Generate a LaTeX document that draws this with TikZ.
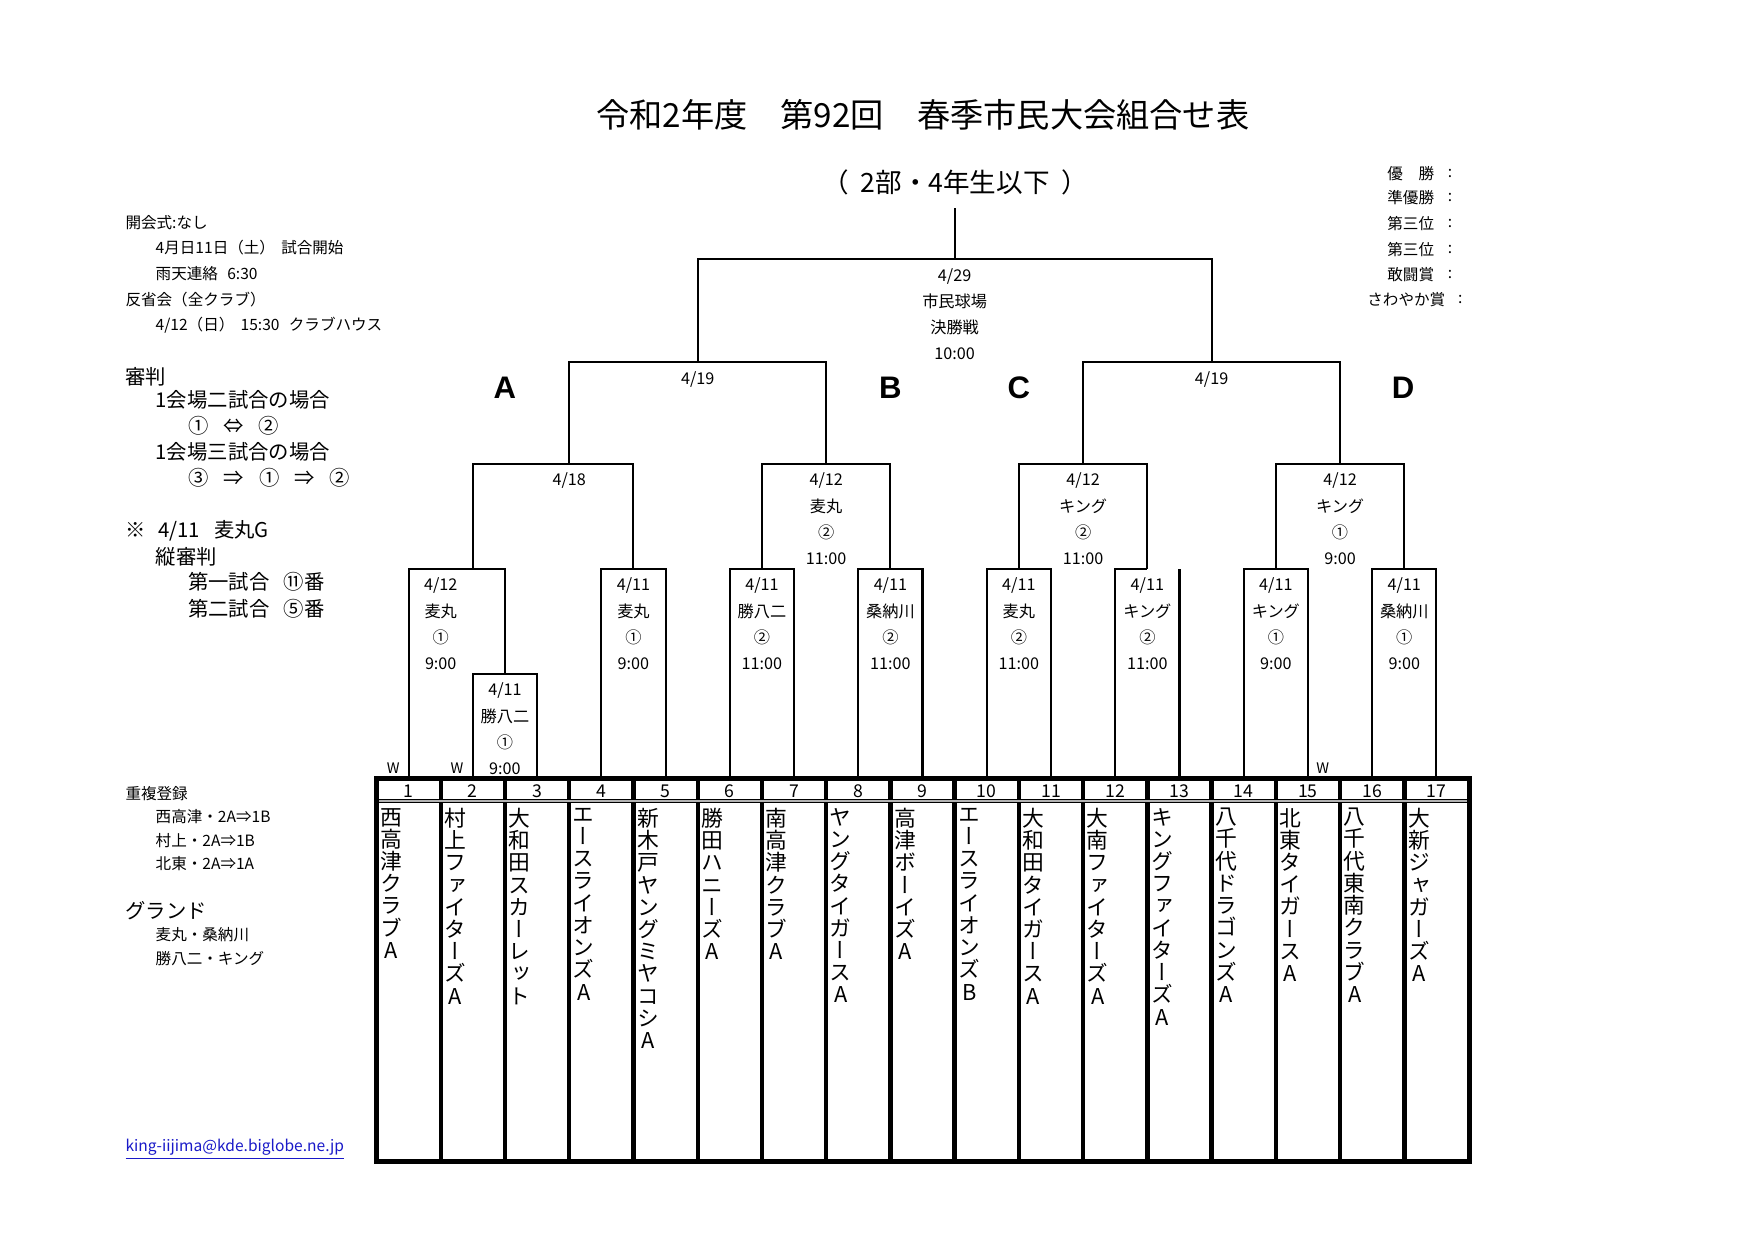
\documentclass[tikz,border=0pt]{standalone}
\usepackage{fontspec}
\setmainfont{Noto Sans CJK JP}
\newfontfamily\tatefont[RawFeature=+vert]{Noto Sans CJK JP}
\newfontfamily\abcfont{Liberation Sans}
\definecolor{mailblue}{RGB}{25,25,200}

% team names are written top to bottom, one character per line
\def\tatego#1{\ifx\end#1\else\hbox to 1em{\hss#1\hss}\expandafter\tatego\fi}
\newcommand\tate[1]{\vtop{\tatefont\baselineskip=10.7pt\lineskiplimit=-100pt\expandafter\tatego#1\end}}

\begin{document}
\begin{tikzpicture}[x=0.5382pt, y=-0.5382pt, line join=miter,
    line/.style={line width=1pt},
    frame/.style={line width=2.4pt},
    sep/.style={line width=2.1pt},
    info/.style={font=\fontsize{7.8}{12.6}\selectfont, align=center, inner sep=0pt, anchor=north},
    note/.style={font=\fontsize{7.5}{9}\selectfont, inner sep=0pt, anchor=west},
    bignote/.style={font=\fontsize{9.8}{11}\selectfont, inner sep=0pt, anchor=west},
    grp/.style={font=\abcfont\bfseries\fontsize{15}{15}\selectfont, inner sep=0pt},
    num/.style={font=\fontsize{8.5}{9}\selectfont, inner sep=0pt},
    team/.style={font=\fontsize{10.5}{10.7}\selectfont, inner sep=0pt, anchor=north west},
    wmark/.style={font=\fontsize{7}{8}\selectfont, inner sep=0pt}]
\useasboundingbox (0,0) rectangle (1570,1110);

% titles
\node[font=\fontsize{16}{16}\selectfont] (title) at (826,103) {令和2年度　第92回　春季市民大会組合せ表};
\node[font=\fontsize{12.8}{13}\selectfont] (sub) at (855,163) {（\hspace{0.45em}2部・4年生以下\hspace{0.45em}）};

% prizes
\foreach \lab/\y in {優　勝/155, 準優勝/177, 第三位/200, 第三位/223, 敢闘賞/246} {
  \node[note, anchor=east] (pr\y) at (1284,\y) {\lab};
  \node[note, anchor=center] (pc\y) at (1298,\y) {:};
}
\node[note, anchor=east] (pr268) at (1294,268) {さわやか賞};
\node[note, anchor=center] (pc268) at (1307,268) {:};

% notes on the left
\node[note] (n1) at (112,199) {開会式:なし};
\node[note] (n2) at (139,222) {4月日11日（土）\hspace{0.4em}試合開始};
\node[note] (n3) at (139,245) {雨天連絡\hspace{0.6em}6:30};
\node[note] (n4) at (112,268) {反省会（全クラブ）};
\node[note] (n5) at (139,291) {4/12（日）\hspace{0.4em}15:30\hspace{0.6em}クラブハウス};
\node[bignote] (j1) at (112,337) {審判};
\node[bignote] (j2) at (139,358) {1会場二試合の場合};
\node[bignote] (j3) at (168,381) {①\hspace{0.75em}⇔\hspace{0.7em}②};
\node[bignote] (j4) at (139,404) {1会場三試合の場合};
\node[bignote] (j5) at (168,428) {③\hspace{0.75em}⇒\hspace{0.75em}①\hspace{0.75em}⇒\hspace{0.7em}②};
\node[bignote] (k1) at (112,475) {※\hspace{0.6em}4/11\hspace{0.7em}麦丸G};
\node[bignote] (k2) at (139,498) {縦審判};
\node[bignote] (k3) at (168,521) {第一試合\hspace{0.7em}⑪番};
\node[bignote] (k4) at (168,545) {第二試合\hspace{0.7em}⑤番};
\node[note] (d1) at (112,710) {重複登録};
\node[note] (d2) at (139,731) {西高津・2A⇒1B};
\node[note] (d3) at (139,752) {村上・2A⇒1B};
\node[note] (d4) at (139,773) {北東・2A⇒1A};
\node[bignote] (g1) at (112,815) {グランド};
\node[note] (g2) at (139,837) {麦丸・桑納川};
\node[note] (g3) at (139,858) {勝八二・キング};
\node[note, text=mailblue] (mail) at (112,1029) {\underline{king-iijima@kde.biglobe.ne.jp}};

% bracket points
\foreach \i in {1,...,17}
  \coordinate (t\i) at ({337+57.5*(\i-0.5)},697);
\coordinate (m23) at (452,603);
\coordinate (m1) at (423.25,509);
\coordinate (m45) at (567,509);
\coordinate (m67) at (682,509);
\coordinate (m89) at (797,509);
\coordinate (m1011) at (912,509);
\coordinate (m1213) at (1027,509);
\coordinate (e13) at (t13 |- m1213);
\coordinate (m1415) at (1142,509);
\coordinate (m1617) at (1257,509);
\coordinate (qA) at (509.5,415);
\coordinate (qB) at (739.5,415);
\coordinate (qC) at (969.5,415);
\coordinate (qD) at (1199.5,415);
\coordinate (sL) at (624.5,324);
\coordinate (sR) at (1084.5,324);
\coordinate (fin) at (854.5,232);
\coordinate (top) at (854.5,186);

% bracket
\draw[line] (t2) |- (m23) -| (t3);
\draw[line] (t1) |- (m1) -| (m23);
\draw[line] (t4) |- (m45) -| (t5);
\draw[line] (t6) |- (m67) -| (t7);
\draw[line] (t8) |- (m89) -| (t9);
\draw[line] (t10) |- (m1011) -| (t11);
\draw[line] (t12) |- (m1213);
\draw[line] (t13) -- (e13);
\draw[line] (t14) |- (m1415) -| (t15);
\draw[line] (t16) |- (m1617) -| (t17);
\draw[line] (m1) |- (qA) -| (m45);
\draw[line] (m67) |- (qB) -| (m89);
\draw[line] (m1011) |- (qC) -| (m1213);
\draw[line] (m1415) |- (qD) -| (m1617);
\draw[line] (qA) |- (sL) -| (qB);
\draw[line] (qC) |- (sR) -| (qD);
\draw[line] (sL) |- (fin) -| (sR);
\draw[line] (fin) -- (top);

% match info
\node[info] (iF) at (854.5,240) {4/29\\市民球場\\決勝戦\\10:00};
\node[info] (iSL) at (624.5,332) {4/19};
\node[info] (iSR) at (1084.5,332) {4/19};
\node[info] (iQA) at (509.5,423) {4/18};
\node[info] (iQB) at (739.5,423) {4/12\\麦丸\\②\\11:00};
\node[info] (iQC) at (969.5,423) {4/12\\キング\\②\\11:00};
\node[info] (iQD) at (1199.5,423) {4/12\\キング\\①\\9:00};
\node[info] (i1) at (394.5,517) {4/12\\麦丸\\①\\9:00};
\node[info] (i23) at (452,611) {4/11\\勝八二\\①\\9:00};
\node[info] (i45) at (567,517) {4/11\\麦丸\\①\\9:00};
\node[info] (i67) at (682,517) {4/11\\勝八二\\②\\11:00};
\node[info] (i89) at (797,517) {4/11\\桑納川\\②\\11:00};
\node[info] (i1011) at (912,517) {4/11\\麦丸\\②\\11:00};
\node[info] (i1213) at (1027,517) {4/11\\キング\\②\\11:00};
\node[info] (i1415) at (1142,517) {4/11\\キング\\①\\9:00};
\node[info] (i1617) at (1257,517) {4/11\\桑納川\\①\\9:00};

% blocks
\node[grp] (gA) at (452,347) {A};
\node[grp] (gB) at (797,347) {B};
\node[grp] (gC) at (912,347) {C};
\node[grp] (gD) at (1256,347) {D};

% walkovers
\node[wmark] (w1) at (352,688) {W};
\node[wmark] (w2) at (409,688) {W};
\node[wmark] (w15) at (1184,688) {W};

% table
\foreach \k in {1,...,16}
  \draw[sep] ({337+57.5*\k},697) -- ({337+57.5*\k},1040);
\draw[line width=0.6pt, double=gray!60, double distance=0.8pt] (337,717) -- (1315,717);
\draw[frame] (337,697) rectangle (1315,1040);
\foreach \i in {1,...,17}
  \node[num] (no\i) at ({337+57.5*(\i-0.5)},708) {\i};
\foreach \i/\nm in {1/西高津クラブA, 2/村上ファイターズA, 3/大和田スカーレット,
    4/エースライオンズA, 5/新木戸ヤングミヤコシA, 6/勝田ハニーズA,
    7/南高津クラブA, 8/ヤングタイガースA, 9/高津ボーイズA,
    10/エースライオンズB, 11/大和田タイガースA, 12/大南ファイターズA,
    13/キングファイターズA, 14/八千代ドラゴンズA, 15/北東タイガースA,
    16/八千代東南クラブA, 17/大新ジャガーズA}
  \node[team] (team\i) at ({337+57.5*(\i-1)+3},723) {\tate{\nm}};
\end{tikzpicture}
\end{document}
